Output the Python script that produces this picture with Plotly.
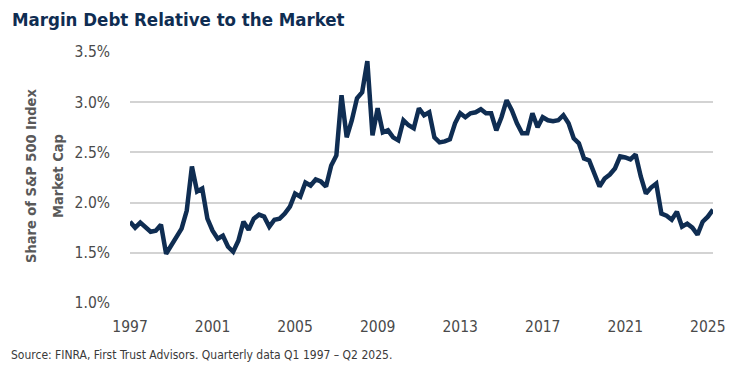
import plotly.graph_objects as go

# Quarterly margin debt as % of S&P 500 market cap, Q1 1997 - Q2 2025
start_year = 1997
margin_share = [
    1.81, 1.75, 1.80, 1.76,   # 1997
    1.71, 1.72, 1.78, 1.49,   # 1998
    1.57, 1.64, 1.74, 1.92,   # 1999
    2.36, 2.11, 2.14, 1.84,   # 2000
    1.72, 1.64, 1.67, 1.56,   # 2001
    1.51, 1.62, 1.81, 1.73,   # 2002
    1.84, 1.88, 1.86, 1.76,   # 2003
    1.83, 1.84, 1.89, 1.96,   # 2004
    2.09, 2.06, 2.20, 2.17,   # 2005
    2.23, 2.21, 2.16, 2.37,   # 2006
    2.47, 3.07, 2.65, 2.82,   # 2007
    3.04, 3.10, 3.41, 2.67,   # 2008
    2.94, 2.70, 2.72, 2.65,   # 2009
    2.62, 2.82, 2.77, 2.74,   # 2010
    2.94, 2.87, 2.90, 2.65,   # 2011
    2.60, 2.61, 2.63, 2.79,   # 2012
    2.89, 2.85, 2.89, 2.90,   # 2013
    2.93, 2.89, 2.89, 2.72,   # 2014
    2.85, 3.02, 2.92, 2.79,   # 2015
    2.69, 2.69, 2.89, 2.75,   # 2016
    2.85, 2.82, 2.81, 2.82,   # 2017
    2.87, 2.79, 2.64, 2.59,   # 2018
    2.44, 2.42, 2.29, 2.16,   # 2019
    2.24, 2.28, 2.34, 2.46,   # 2020
    2.45, 2.43, 2.48, 2.26,   # 2021
    2.09, 2.15, 2.19, 1.89,   # 2022
    1.87, 1.83, 1.91, 1.76,   # 2023
    1.79, 1.75, 1.68, 1.81,   # 2024
    1.86, 1.93,               # 2025
]
quarter_time = [start_year + i / 4 for i in range(len(margin_share))]
tick_years = [1997, 2001, 2005, 2009, 2013, 2017, 2021, 2025]
y_ticks = [1.0, 1.5, 2.0, 2.5, 3.0, 3.5]
y_tick_labels = ["1.0%", "1.5%", "2.0%", "2.5%", "3.0%", "3.5%"]

NAVY = "#0f2d52"
GRAY = "#595959"
FONT = "DejaVu Sans Condensed, Liberation Sans Narrow, sans-serif"

PLOT_W = 752 - 130 - 39
PLOT_H = 379 - 52 - 76

fig = go.Figure()
fig.add_trace(go.Scatter(
    x=quarter_time, y=margin_share, mode="lines",
    line=dict(color=NAVY, width=4.5),
    hoverinfo="skip", showlegend=False,
))

fig.update_layout(
    width=752, height=379,
    margin=dict(l=130, r=39, t=52, b=76),
    paper_bgcolor="white", plot_bgcolor="white",
    font=dict(family=FONT, color=GRAY),
    xaxis=dict(
        range=[1997, 2025.25], tickvals=tick_years,
        ticktext=[str(y) for y in tick_years],
        showgrid=False, zeroline=False, showline=False,
        tickfont=dict(size=15.5, color="#4a4a4a", family=FONT),
        ticklabelstandoff=12,
    ),
    yaxis=dict(
        range=[1.0, 3.5], tickvals=y_ticks, ticktext=y_tick_labels,
        showgrid=True, gridcolor="#d3d3d3", gridwidth=1.5,
        zeroline=False, showline=False,
        tickfont=dict(size=15.5, color="#4a4a4a", family=FONT),
        ticklabelstandoff=19,
    ),
    annotations=[
        dict(text="<b>Margin Debt Relative to the Market</b>",
             xref="paper", yref="paper", x=-120/PLOT_W, y=1 + 33/PLOT_H,
             xanchor="left", yanchor="middle", showarrow=False,
             font=dict(size=18.5, color=NAVY, family=FONT)),
        dict(text="<b>Share of S&P 500 Index</b>",
             xref="paper", yref="paper", x=-99/PLOT_W, y=(303-176)/PLOT_H,
             xanchor="center", yanchor="middle", showarrow=False,
             textangle=-90,
             font=dict(size=14.5, color=GRAY, family=FONT)),
        dict(text="<b>Market Cap</b>",
             xref="paper", yref="paper", x=-72/PLOT_W, y=(303-176)/PLOT_H,
             xanchor="center", yanchor="middle", showarrow=False,
             textangle=-90,
             font=dict(size=14.5, color=GRAY, family=FONT)),
        dict(text="Source: FINRA, First Trust Advisors. Quarterly data Q1 1997 \u2013 Q2 2025.",
             xref="paper", yref="paper", x=-121/PLOT_W, y=-(355-303)/PLOT_H,
             xanchor="left", yanchor="middle", showarrow=False,
             font=dict(size=12, color="#3a3a3a", family=FONT)),
    ],
)

fig.write_html("out.html", config={"displayModeBar": False},
               post_script="document.body.style.margin='0';")
